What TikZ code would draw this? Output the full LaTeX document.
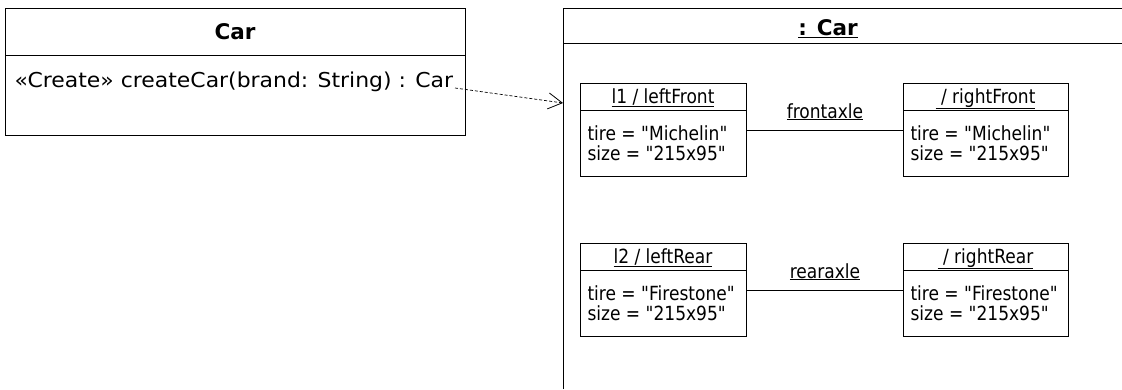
\documentclass[tikz,border=0pt]{standalone}
\usepackage{fontspec}
\setmainfont{DejaVu Sans}[Ligatures=TeXOff]
\newfontfamily\objfont{DejaVu Sans}[FakeStretch=0.875, Ligatures=TeXOff]
\newfontfamily\opfont{DejaVu Sans}[FakeStretch=1.07, Ligatures=TeXOff]
\usetikzlibrary{arrows.meta}
\begin{document}
\begin{tikzpicture}[x=1pt,y=-1pt,
  line width=1pt,
  every node/.style={font=\objfont\fontsize{19.5pt}{20pt}\selectfont, inner sep=0pt},
  box/.style={draw, anchor=north west, inner sep=0pt},
  txt/.style={anchor=base west},
  ctr/.style={anchor=base},
  bold/.style={font=\fontsize{21.5pt}{22pt}\selectfont\bfseries},
  optxt/.style={font=\opfont\fontsize{20.5pt}{22pt}\selectfont},
  dep/.style={dashed, line width=0.7pt, dash pattern=on 3pt off 2pt, -{Straight Barb[length=14pt,width=16pt,line width=0.8pt]}}]
\useasboundingbox (0,0) rectangle (1122,389);
% Class Car
\node[box, minimum width=460pt, minimum height=127pt] (car) at (5,8) {};
\draw (car.west |- 0,55) -- (car.east |- 0,55);
\node[bold, ctr] (cartitle) at (235,39) {Car};
\node[txt, optxt] (op) at (14,87) {«Create» createCar(brand: String) : Car};
% Composite structure frame
\coordinate (ftop) at (563,8);
\coordinate (fbot) at (563,389);
\coordinate (fright) at (1122,8);
\draw (fbot) -- (ftop) -- (fright);
\draw (563,43) -- (1122,43);
\node[bold, ctr] (frametitle) at (828,35) {\underline{: Car}};
% dependency
\coordinate (depstart) at (455,88);
\coordinate (depend) at (563,103);
\draw[dep] (depstart) -- (depend);
% objects
\newcommand{\objbox}[8]{%
  \node[box, minimum width=#4pt, minimum height=#5pt] (#1) at (#2,#3) {};
  \draw (#2,#3+27) -- (#2+#4,#3+27);
  \node[ctr] (#1t) at (#2+#4/2,#3+20) {\underline{#6}};
  \node[txt] (#1a) at (#2+7,#3+57) {#7};
  \node[txt] (#1b) at (#2+7,#3+77) {#8};
}
\objbox{lf}{580}{83}{166}{93}{l1 / leftFront}{tire = "Michelin"}{size = "215x95"}
\objbox{rf}{903}{83}{165}{93}{\ / rightFront}{tire = "Michelin"}{size = "215x95"}
\objbox{lr}{580}{243}{166}{93}{l2 / leftRear}{tire = "Firestone"}{size = "215x95"}
\objbox{rr}{903}{243}{165}{93}{\ / rightRear}{tire = "Firestone"}{size = "215x95"}
\draw (lf) -- node[ctr, yshift=12pt] (fa) {\underline{frontaxle}} (rf);
\draw (lr) -- node[ctr, yshift=12pt] (ra) {\underline{rearaxle}} (rr);
\end{tikzpicture}
\end{document}
